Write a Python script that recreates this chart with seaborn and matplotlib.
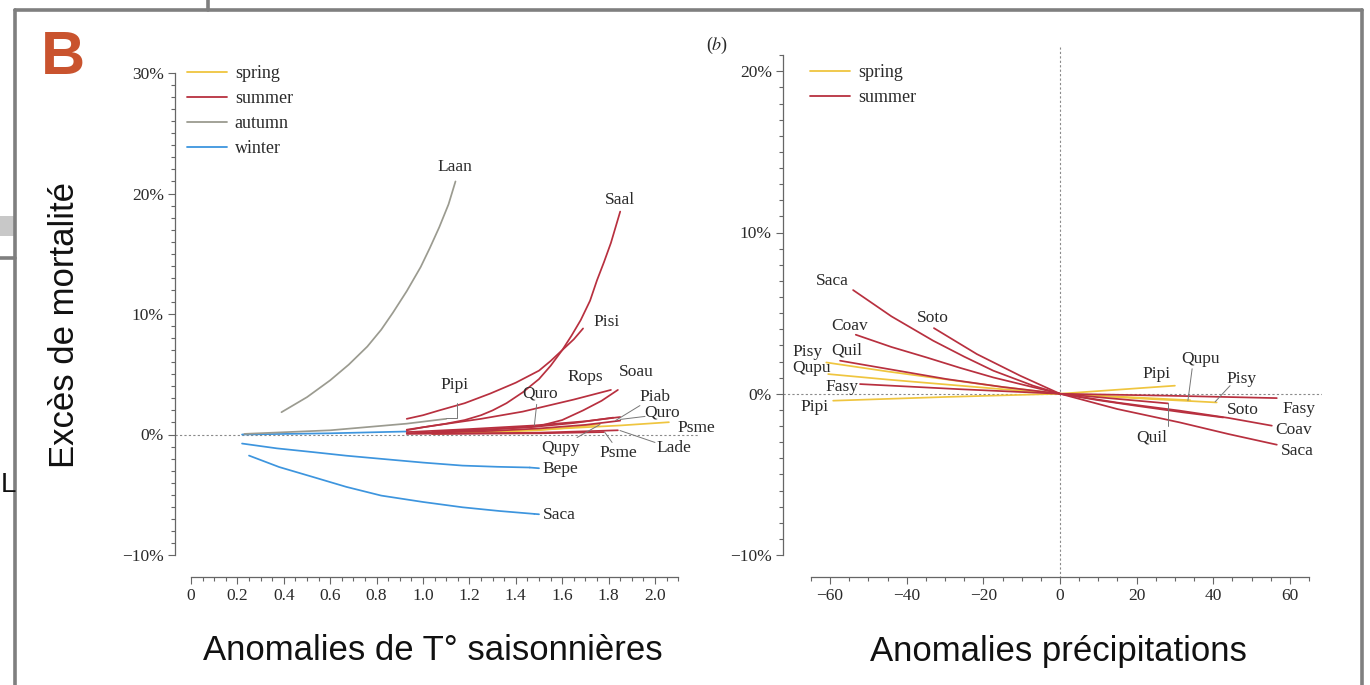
import numpy as np
import pandas as pd
import matplotlib
matplotlib.use("Agg")
import matplotlib.pyplot as plt
import seaborn as sns
from matplotlib.ticker import MultipleLocator, FuncFormatter
from matplotlib.lines import Line2D
from matplotlib.patches import Rectangle

# ---------------- data: panel A (temperature anomalies) ----------------
laan_x = [0.39, 0.50, 0.60, 0.68, 0.76, 0.82, 0.87, 0.93, 0.99, 1.03, 1.07, 1.11, 1.14]
laan_y = [1.85, 3.1, 4.5, 5.8, 7.3, 8.7, 10.1, 11.9, 13.9, 15.5, 17.2, 19.1, 21.0]
pipi_aut_x = [0.23, 0.60, 0.93, 1.10]
pipi_aut_y = [0.05, 0.35, 0.9, 1.3]
saal_x = [0.93, 1.00, 1.10, 1.18, 1.25, 1.30, 1.36, 1.43, 1.50, 1.55, 1.60, 1.64,
          1.68, 1.72, 1.75, 1.78, 1.81, 1.83, 1.85]
saal_y = [0.35, 0.6, 0.9, 1.2, 1.6, 2.0, 2.6, 3.5, 4.6, 5.7, 7.0, 8.2,
          9.5, 11.1, 12.8, 14.3, 15.9, 17.2, 18.5]
pisi_x = [0.93, 1.00, 1.07, 1.18, 1.29, 1.40, 1.50, 1.55, 1.60, 1.65, 1.69]
pisi_y = [1.3, 1.6, 2.0, 2.6, 3.4, 4.3, 5.3, 6.1, 7.0, 7.9, 8.8]
rops_x = [0.93, 1.07, 1.25, 1.43, 1.65, 1.81]
rops_y = [0.4, 0.8, 1.3, 1.9, 2.9, 3.7]
soau_x = [0.93, 1.25, 1.50, 1.60, 1.69, 1.77, 1.84]
soau_y = [0.1, 0.35, 0.7, 1.2, 2.0, 2.8, 3.7]
quro_mid_x = [0.93, 1.20, 1.48, 1.70, 1.85]
quro_mid_y = [0.2, 0.45, 0.75, 1.1, 1.45]
piab_x = [1.04, 1.25, 1.46, 1.65, 1.82]
piab_y = [0.25, 0.4, 0.6, 0.95, 1.4]
quro_x = [1.04, 1.30, 1.50, 1.70, 1.85]
quro_y = [0.15, 0.3, 0.5, 0.8, 1.15]
lade_x = [0.93, 1.50, 1.84]
lade_y = [0.05, 0.15, 0.35]
psme_sum_x = [1.04, 1.50, 1.78]
psme_sum_y = [0.05, 0.1, 0.2]
psme_spr_x = [1.07, 1.35, 1.60, 1.85, 2.06]
psme_spr_y = [0.15, 0.3, 0.5, 0.75, 1.02]
qupy_spr_x = [1.04, 1.30, 1.50, 1.65, 1.76]
qupy_spr_y = [0.05, 0.2, 0.35, 0.6, 0.85]
win0_x = [0.22, 0.60, 0.93]
win0_y = [0.0, 0.1, 0.25]
bepe_x = [0.22, 0.37, 0.53, 0.67, 0.82, 1.00, 1.17, 1.32, 1.46]
bepe_y = [-0.75, -1.15, -1.47, -1.76, -2.02, -2.33, -2.58, -2.68, -2.74]
saca_win_x = [0.25, 0.38, 0.53, 0.67, 0.82, 1.00, 1.17, 1.33, 1.48]
saca_win_y = [-1.75, -2.7, -3.55, -4.35, -5.07, -5.6, -6.04, -6.35, -6.59]

# ---------------- data: panel b (precipitation anomalies) ----------------
saca_p_x = [-54, -44, -33.1, -25, -17.4, -7.0, 0, 15, 31.3, 44, 56.6]
saca_p_y = [6.43, 4.8, 3.29, 2.3, 1.43, 0.5, 0, -0.95, -1.78, -2.5, -3.16]
soto_p_x = [-32.9, -21.7, -10.4, 0, 10, 20, 32, 42.6]
soto_p_y = [4.07, 2.46, 1.12, 0, -0.4, -0.75, -1.15, -1.47]
coav_p_x = [-53.3, -44, -34.8, -26, -17.4, 0, 15, 31.3, 44, 55.3]
coav_p_y = [3.66, 2.9, 2.25, 1.6, 1.01, 0, -0.55, -1.05, -1.5, -1.98]
quil_p_x = [-57.4, -44, -29.6, -15, 0, 14, 28.2]
quil_p_y = [2.05, 1.5, 0.91, 0.42, 0, -0.3, -0.6]
fasy_p_x = [-52.2, -26, 0, 28, 56.6]
fasy_p_y = [0.6, 0.28, 0, -0.12, -0.27]
pisy_p_x = [-61, -45, -30, -15, 0, 20, 40.9]
pisy_p_y = [1.94, 1.38, 0.9, 0.42, 0, -0.28, -0.54]
qupu_p_x = [-60.5, -45, -30, -15, 0, 17, 34]
qupu_p_y = [1.22, 0.88, 0.58, 0.28, 0, -0.2, -0.4]
pipi_p_x = [-59.2, -30, 0, 15, 30]
pipi_p_y = [-0.43, -0.2, 0, 0.25, 0.5]

seasons_A = ["spring", "summer", "autumn", "winter"]
seasons_B = ["spring", "summer"]
season_colors = {"spring": "#efc53f", "summer": "#b8303f",
                 "autumn": "#9b9b90", "winter": "#3d95de"}

curves_A = [
    ("win0", "winter", win0_x, win0_y),
    ("Bepe", "winter", bepe_x, bepe_y),
    ("Saca", "winter", saca_win_x, saca_win_y),
    ("Laan", "autumn", laan_x, laan_y),
    ("PipiA", "autumn", pipi_aut_x, pipi_aut_y),
    ("PsmeS", "spring", psme_spr_x, psme_spr_y),
    ("QupyS", "spring", qupy_spr_x, qupy_spr_y),
    ("Lade", "summer", lade_x, lade_y),
    ("Psme", "summer", psme_sum_x, psme_sum_y),
    ("Quro", "summer", quro_x, quro_y),
    ("Piab", "summer", piab_x, piab_y),
    ("QuroM", "summer", quro_mid_x, quro_mid_y),
    ("Soau", "summer", soau_x, soau_y),
    ("Rops", "summer", rops_x, rops_y),
    ("Pisi", "summer", pisi_x, pisi_y),
    ("Saal", "summer", saal_x, saal_y),
]
curves_B = [
    ("Pisy", "spring", pisy_p_x, pisy_p_y),
    ("Qupu", "spring", qupu_p_x, qupu_p_y),
    ("Pipi", "spring", pipi_p_x, pipi_p_y),
    ("Fasy", "summer", fasy_p_x, fasy_p_y),
    ("Quil", "summer", quil_p_x, quil_p_y),
    ("Coav", "summer", coav_p_x, coav_p_y),
    ("Soto", "summer", soto_p_x, soto_p_y),
    ("Saca", "summer", saca_p_x, saca_p_y),
]


def to_df(curves):
    rows = []
    for i, (name, season, xs, ys) in enumerate(curves):
        for x, y in zip(xs, ys):
            rows.append({"curve": f"{i:02d}{name}", "season": season, "x": x, "y": y})
    return pd.DataFrame(rows)


dfA = to_df(curves_A)
dfB = to_df(curves_B)

sns.set_theme(style="white")
plt.rcParams["font.family"] = ["Liberation Serif", "DejaVu Serif"]
plt.rcParams["mathtext.fontset"] = "stix"

W, H = 1370, 685
fig = plt.figure(figsize=(W / 100, H / 100), dpi=100)
fx = lambda px: px / W
fy = lambda py: 1 - py / H

axL = fig.add_axes([fx(175), fy(555), 525 / W, 482 / H])
axR = fig.add_axes([fx(783), fy(555), 539 / W, 516 / H])

# zero reference lines
dot = dict(color="#8a8a8a", lw=0.8, ls=(0, (2, 2)), zorder=1)
axL.axhline(0, **dot)
axR.axhline(0, **dot)
axR.plot([0, 0], [-11.4, 21.5], clip_on=False, **dot)

for ax, df in ((axL, dfA), (axR, dfB)):
    for c in df["curve"].unique():
        sub = df[df["curve"] == c]
        sns.lineplot(data=sub, x="x", y="y", hue="season", palette=season_colors,
                     estimator=None, sort=False, legend=False, lw=1.25, ax=ax)

tick_col = "#666666"
lab_col = "#2a2a2a"


def pct(v, pos):
    v = int(round(v))
    return ("\u2212%d%%" % -v) if v < 0 else "%d%%" % v


def num_left(v, pos):
    return "0" if abs(v) < 1e-9 else "%.1f" % v


def num_right(v, pos):
    v = int(round(v))
    return ("\u2212%d" % -v) if v < 0 else "%d" % v


for ax, xb, yb, yfmt, xfmt in (
        (axL, (0, 2.1), (-10, 30), pct, num_left),
        (axR, (-65, 65), (-10, 21), pct, num_right)):
    for s in ("top", "right"):
        ax.spines[s].set_visible(False)
    ax.spines["left"].set_bounds(*yb)
    ax.spines["bottom"].set_bounds(*xb)
    ax.spines["bottom"].set_position(("outward", 15.8))
    for s in ("left", "bottom"):
        ax.spines[s].set_color(tick_col)
        ax.spines[s].set_linewidth(0.9)
    ax.yaxis.set_major_formatter(FuncFormatter(yfmt))
    ax.xaxis.set_major_formatter(FuncFormatter(xfmt))
    ax.tick_params(which="both", direction="out", color=tick_col, width=0.8,
                   labelcolor=lab_col, labelsize=12.5, left=True, bottom=True)
    ax.tick_params(which="major", length=5, pad=3)
    ax.tick_params(which="minor", length=3)
    ax.set_xlabel("")
    ax.set_ylabel("")
    ax.grid(False)

axL.set_xticks(np.arange(0, 2.11, 0.2))
axL.set_xticks(np.arange(0, 2.101, 0.05), minor=True)
axL.set_yticks([-10, 0, 10, 20, 30])
axL.set_yticks(np.arange(-10, 31, 1), minor=True)
axR.set_xticks(np.arange(-60, 61, 20))
axR.set_xticks(np.arange(-65, 66, 5), minor=True)
axR.set_yticks([-10, 0, 10, 20])
axR.set_yticks(np.arange(-10, 22, 1), minor=True)
axL.set_xlim(-0.069, 2.194)
axL.set_ylim(-10, 30)
axR.set_xlim(-72.3, 68.4)
axR.set_ylim(-10, 22)


def make_legend(ax, seasons, anchor):
    handles = [Line2D([0], [0], color=season_colors[s], lw=1.3) for s in seasons]
    ax.legend(handles, seasons, loc="upper left", bbox_to_anchor=anchor,
              bbox_transform=fig.transFigure, frameon=False, fontsize=13,
              handlelength=2.2, handletextpad=0.45, labelspacing=0.45,
              borderpad=0, borderaxespad=0, labelcolor=lab_col)


make_legend(axL, seasons_A, (fx(187), fy(65)))
make_legend(axR, seasons_B, (fx(810), fy(64)))

# species labels, panel A
tkw = dict(ha="center", va="center", fontsize=12.5, color=lab_col)
labels_A = [("Laan", 1.138, 22.2), ("Saal", 1.849, 19.5), ("Pisi", 1.79, 9.3),
            ("Pipi", 1.138, 4.07), ("Rops", 1.698, 4.74), ("Quro", 1.504, 3.41),
            ("Soau", 1.918, 5.15), ("Piab", 2.0, 3.1), ("Quro", 2.03, 1.85),
            ("Psme", 2.18, 0.58), ("Qupy", 1.595, -1.08), ("Psme", 1.84, -1.5),
            ("Lade", 2.08, -1.08), ("Bepe", 1.59, -2.9), ("Saca", 1.586, -6.65)]
for s, x, y in labels_A:
    axL.text(x, y, s, **tkw)
lead = dict(color="#777777", lw=0.7)
axL.plot([1.147, 1.147, 1.10], [2.6, 1.4, 1.4], **lead)
axL.plot([1.49, 1.48], [2.5, 0.75], **lead)
axL.plot([1.935, 1.83], [2.4, 1.16], **lead)
axL.plot([1.957, 1.85], [1.5, 1.25], **lead)
axL.plot([1.664, 1.763], [-0.25, 0.83], **lead)
axL.plot([1.815, 1.784], [-0.66, 0.17], **lead)
axL.plot([2.0, 1.849], [-0.66, 0.33], **lead)
axL.plot([1.46, 1.5], [-2.74, -2.8], color=season_colors["winter"], lw=1.25)
axL.plot([1.48, 1.5], [-6.59, -6.62], color=season_colors["winter"], lw=1.25)

# species labels, panel b
labels_B = [("Saca", -59.3, 7.0), ("Soto", -33.2, 4.71), ("Coav", -54.8, 4.22),
            ("Pisy", -65.8, 2.6), ("Quil", -55.6, 2.67), ("Qupu", -64.8, 1.61),
            ("Fasy", -56.9, 0.43), ("Pipi", -64.0, -0.81),
            ("Pipi", 25.3, 1.24), ("Qupu", 36.6, 2.17), ("Pisy", 47.5, 0.93),
            ("Soto", 47.8, -0.99), ("Fasy", 62.4, -0.93), ("Coav", 61.1, -2.23),
            ("Saca", 61.9, -3.53), ("Quil", 24.0, -2.73)]
for s, x, y in labels_B:
    axR.text(x, y, s, **tkw)
axR.plot([34.5, 33.4], [1.55, -0.43], **lead)
axR.plot([44.4, 40.5], [0.5, -0.5], **lead)
axR.plot([28.2, 28.2], [-1.98, -0.6], **lead)

# axis titles (sans)
sans = ["Liberation Sans", "DejaVu Sans"]
fig.text(fx(65), fy(325), "Excès de mortalité", rotation=90, ha="center",
         va="center", fontsize=25, family=sans, color="#111111")
fig.text(fx(433), fy(651), "Anomalies de T° saisonnières", ha="center",
         va="center", fontsize=25, family=sans, color="#111111")
fig.text(fx(1058), fy(652), "Anomalies précipitations", ha="center",
         va="center", fontsize=25, family=sans, color="#111111")
fig.text(fx(717), fy(45), r"($\mathit{b}$)", ha="center", va="center",
         fontsize=13, color=lab_col)
fig.text(fx(63), fy(58), "B", ha="center", va="center", fontsize=44,
         fontweight="bold", family=sans, color="#c9532e")

# screenshot frame
frame = dict(transform=fig.transFigure, color="#7f7f7f", lw=2.6)
fig.add_artist(Line2D([fx(15), fx(1362)], [fy(10), fy(10)], **frame))
fig.add_artist(Line2D([fx(15), fx(15)], [fy(10), fy(685)], **frame))
fig.add_artist(Line2D([fx(1362), fx(1362)], [fy(10), fy(685)], **frame))
fig.add_artist(Line2D([fx(208), fx(208)], [fy(0), fy(10)], **frame))
fig.add_artist(Line2D([fx(0), fx(15)], [fy(258), fy(258)], **frame))
fig.add_artist(Rectangle((fx(0), fy(236)), fx(15), 20 / H, transform=fig.transFigure,
                         color="#c8c8c8", lw=0))
fig.text(fx(1), fy(485), "L", ha="left", va="center", fontsize=20, family=sans,
         color="#111111")

fig.savefig("out.png", dpi=100)
